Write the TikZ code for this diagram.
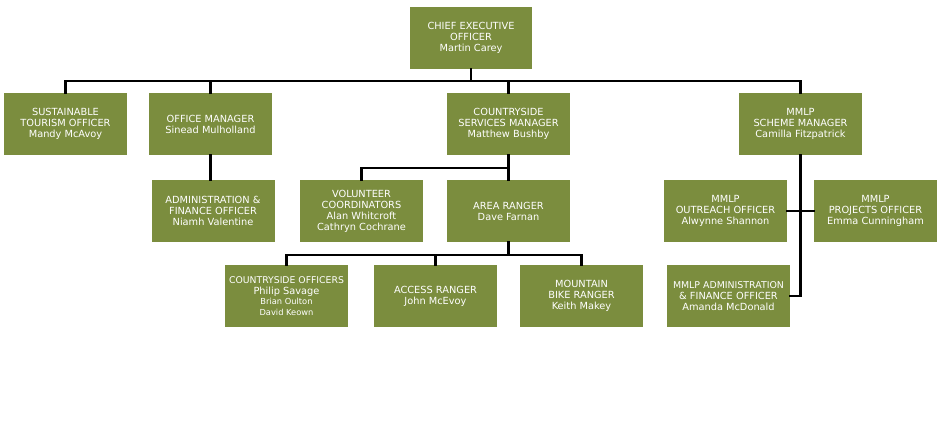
\documentclass[tikz,border=0pt]{standalone}
\usepackage{fontspec}
\setmainfont{DejaVu Sans}
\usepackage{tikz}
\usetikzlibrary{positioning}
\definecolor{olive}{RGB}{123,141,62}
\tikzstyle{post} = [fill=olive, text=white, minimum width=123pt, minimum height=62pt, inner sep=0pt, align=center, font=\fontsize{9.8}{11}\selectfont]
\tikzstyle{line} = [line width=2.3pt, line cap=rect]

\begin{document}
\begin{tikzpicture}[x=1pt, y=-1pt]
  \useasboundingbox (0,0) rectangle (940,422);
  \node[post, minimum width=122pt] (ceo) at (471,38) {CHIEF EXECUTIVE\\OFFICER\\Martin Carey};
  \node[post] (tourism) at (65.5,124) {SUSTAINABLE\\TOURISM OFFICER\\Mandy McAvoy};
  \node[post] (office) at (210.5,124) {OFFICE MANAGER\\Sinead Mulholland};
  \node[post] (services) at (508.5,124) {COUNTRYSIDE\\SERVICES MANAGER\\Matthew Bushby};
  \node[post] (scheme) at (800.5,124) {MMLP\\SCHEME MANAGER\\Camilla Fitzpatrick};
  \node[post] (finance) at (213,211) {ADMINISTRATION \&\\FINANCE OFFICER\\Niamh Valentine};
  \node[post] (volunteer) at (361.5,211) {VOLUNTEER\\COORDINATORS\\Alan Whitcroft\\Cathryn Cochrane};
  \node[post] (area) at (508.5,211) {AREA RANGER\\Dave Farnan};
  \node[post] (outreach) at (725.5,211) {MMLP\\OUTREACH OFFICER\\Alwynne Shannon};
  \node[post] (projects) at (875.5,211) {MMLP\\PROJECTS OFFICER\\Emma Cunningham};
  \node[post] (officers) at (286.5,296) {{\fontsize{9.3}{11}\selectfont COUNTRYSIDE OFFICERS}\\Philip Savage\\[-0.5pt]{\fontsize{8.3}{10}\selectfont Brian Oulton}\\[-0.5pt]{\fontsize{8.3}{10}\selectfont David Keown}};
  \node[post] (access) at (435.5,296) {ACCESS RANGER\\John McEvoy};
  \node[post] (bike) at (581.5,296) {MOUNTAIN\\BIKE RANGER\\Keith Makey};
  \node[post] (mmlpadmin) at (728.5,296) {{\fontsize{9.4}{11}\selectfont MMLP ADMINISTRATION}\\\& FINANCE OFFICER\\Amanda McDonald};

  \coordinate (topbus) at (471,81);
  \coordinate (servicesbus) at (508.5,168);
  \coordinate (rangerbus) at (508.5,255);

  \draw[line] (ceo.south) -- (topbus);
  \draw[line] (tourism.north) |- (topbus) -| (scheme.north);
  \draw[line] (office.north) -- (office.north |- topbus);
  \draw[line] (services.north) -- (services.north |- topbus);
  \draw[line] (office.south) -- (office.south |- finance.north);
  \draw[line] (services.south) -- (area.north);
  \draw[line] (volunteer.north) |- (servicesbus);
  \draw[line] (area.south) -- (rangerbus);
  \draw[line] (officers.north) |- (rangerbus) -| (bike.north);
  \draw[line] (access.north) -- (access.north |- rangerbus);
  \draw[line] (scheme.south) |- (mmlpadmin.east);
  \draw[line] (outreach.east) -- (projects.west);
\end{tikzpicture}
\end{document}
